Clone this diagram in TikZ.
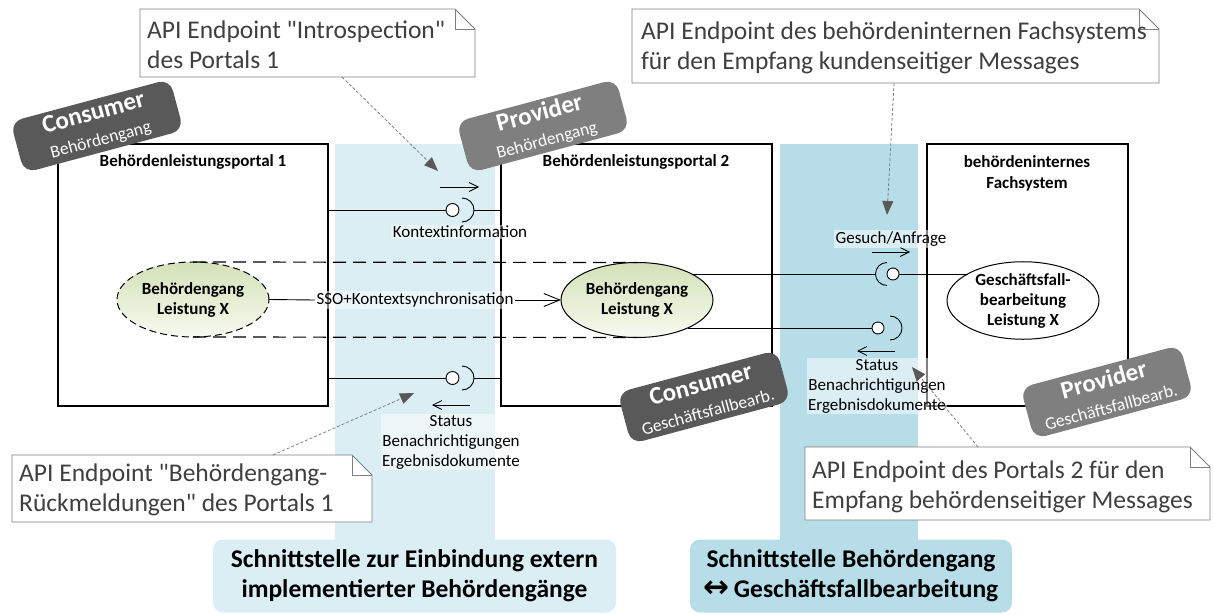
\documentclass[tikz,border=0pt]{standalone}
\usepackage{fontspec}
\setmainfont{Carlito}[Ligatures=TeXOff]
\newfontfamily\arrowfont{DejaVu Sans}
\usetikzlibrary{arrows.meta,shapes.geometric,calc}

\definecolor{bandlight}{HTML}{DAEEF3}
\definecolor{banddark}{HTML}{B7DEE8}
\definecolor{badgedark}{HTML}{595959}
\definecolor{badgemid}{HTML}{7F7F7F}
\definecolor{notegray}{HTML}{7F7F7F}
\definecolor{notefg}{HTML}{3F3F3F}
\definecolor{usecasetop}{HTML}{D3E1B7}
\definecolor{usecasebot}{HTML}{F7FAF0}

\newcommand{\fsz}[2]{\fontsize{#1}{#2}\selectfont}
% outline of a UML note with a folded top-right corner
\newcommand{\drawnote}[1]{%
  \filldraw[noteline, fill=white] (#1.north west) -- ([xshift=-20pt]#1.north east)
    -- ([yshift=-20pt]#1.north east) -- (#1.south east) -- (#1.south west) -- cycle;
  \draw[noteline] ([xshift=-20pt]#1.north east) -- ([xshift=-20pt,yshift=-20pt]#1.north east)
    -- ([yshift=-20pt]#1.north east);}

\begin{document}
\begin{tikzpicture}[x=1pt,y=-1pt,
  sysbox/.style={draw=black, line width=1.1pt, fill=white, anchor=north west, inner sep=0pt, outer sep=0pt},
  systitle/.style={font=\fsz{17}{21}\bfseries, align=center, inner sep=0pt},
  usecase/.style={ellipse, draw=black, line width=1pt, minimum width=152pt, minimum height=75pt,
    inner sep=0pt, outer sep=0pt, align=center, font=\fsz{17}{20}\bfseries},
  greenfill/.style={top color=usecasetop, bottom color=usecasebot},
  ball/.style={circle, draw=black, line width=0.9pt, fill=white, minimum size=13pt, inner sep=0pt, outer sep=0pt},
  iface/.style={line width=0.9pt},
  iflabel/.style={font=\fsz{17}{20}, align=center, fill=white, fill opacity=0.5, text opacity=1, inner sep=1.5pt},
  flow/.style={line width=0.8pt, -{Straight Barb[length=9pt,width=9pt]}},
  badge/.style={rounded corners=12pt, minimum width=165pt, minimum height=53pt, rotate=15,
    text=white, align=center, inner sep=0pt, font=\fsz{17.5}{26}},
  noteframe/.style={anchor=north west, inner sep=0pt, outer sep=0pt},
  noteline/.style={draw=notegray, line width=0.9pt},
  notetext/.style={font=\fsz{25.5}{30}, text=notefg, align=left, anchor=north west, inner sep=0pt},
  pointer/.style={draw=notegray, line width=0.8pt, dash pattern=on 3pt off 2pt,
    -{Triangle[length=14pt,width=11pt,color=badgedark]}},
  bandlabel/.style={rounded corners=10pt, minimum height=73pt, inner sep=0pt,
    font=\fsz{25.5}{30}\bfseries, align=center}
]
\useasboundingbox (0,0) rectangle (1214,615);

% interface bands with their captions
\fill[bandlight] (335,144) rectangle (495,541);
\fill[banddark] (780,144) rectangle (918,541);
\node[bandlabel, fill=bandlight, minimum width=403pt] (capA) at (414.5,576)
  {Schnittstelle zur Einbindung extern\\implementierter Behördengänge};
\node[bandlabel, fill=banddark, minimum width=322pt] (capB) at (851,576)
  {Schnittstelle Behördengang\\{\arrowfont\fsz{31}{30}\bfseries ↔}\,Geschäftsfallbearbeitung};

% systems
\node[sysbox, minimum width=270pt, minimum height=262pt] (p1) at (58,144) {};
\node[sysbox, minimum width=271pt, minimum height=262pt] (p2) at (501,144) {};
\node[sysbox, minimum width=201pt, minimum height=262pt] (fs) at (927,144) {};
\node[systitle] (p1t) at (193,162) {Behördenleistungsportal 1};
\node[systitle] (p2t) at (636,162) {Behördenleistungsportal 2};
\node[systitle] (fst) at (1027,173) {behördeninternes\\Fachsystem};

% use cases
\node[usecase, greenfill, dash pattern=on 7pt off 4pt] (uc1) at (193,299.5) {Behördengang\\Leistung X};
\node[usecase, greenfill] (uc2) at (637,300) {Behördengang\\Leistung X};
\node[usecase, fill=white] (uc3) at (1023,300.5) {Geschäftsfall-\\bearbeitung\\Leistung X};

% portal 1 <-> portal 2: context information
\node[ball] (ballA) at (452.5,210) {};
\coordinate (sockA) at (462,210);
\draw[iface] (p1.east |- ballA) -- (ballA.west);
\draw[iface] (sockA) ++(0,-12) arc[start angle=-90, end angle=90, radius=12];
\draw[iface] ($(sockA)+(12,0)$) -- (p2.west |- sockA);
\coordinate (fA1) at (440,187);
\coordinate (fA2) at (479,187);
\draw[flow] (fA1) -- (fA2);
\node[iflabel] (lblA) at (460,232) {Kontextinformation};

% portal 2 -> portal 1: feedback
\node[ball] (ballB) at (452.5,378) {};
\coordinate (sockB) at (462,378);
\draw[iface] (p1.east |- ballB) -- (ballB.west);
\draw[iface] (sockB) ++(0,-12) arc[start angle=-90, end angle=90, radius=12];
\draw[iface] ($(sockB)+(12,0)$) -- (p2.west |- sockB);
\coordinate (fB1) at (470,405);
\coordinate (fB2) at (432,405);
\draw[flow] (fB1) -- (fB2);
\node[iflabel] (lblB) at (451,442) {Status\\Benachrichtigungen\\Ergebnisdokumente};

% single sign-on
\node[iflabel] (sso) at (415,300) {SSO+Kontextsynchronisation};
\draw[iface] (uc1.east) -- (sso.west);
\draw[iface, -{Straight Barb[length=16pt,width=13pt]}] (sso.east) -- (uc2.west);
\draw[line width=1.2pt, dash pattern=on 13pt off 7pt] (uc1.north) -- (uc2.north);
\draw[line width=1.2pt, dash pattern=on 13pt off 7pt] (uc1.south) -- (uc2.south);

% portal 2 -> case handling: request
\node[ball, minimum size=12pt] (ballC) at (893,274) {};
\coordinate (sockC) at (887,274);
\coordinate (sockCl) at (875.5,274);
\draw[iface] (uc2.25.4) -- (uc2.25.4 -| sockCl);
\draw[iface] (sockC) ++(0,-11.5) arc[start angle=-90, end angle=-270, radius=11.5];
\draw[iface] (ballC.east) -- (ballC.east -| uc3.154.6);
\coordinate (fC1) at (872,252);
\coordinate (fC2) at (910,252);
\draw[flow] (fC1) -- (fC2);
\node[iflabel] (lblC) at (891,239) {Gesuch/Anfrage};

% case handling -> portal 2: feedback
\node[ball, minimum size=12pt] (ballD) at (878,328) {};
\coordinate (sockD) at (890,328);
\draw[iface] (uc2.-29) -- (uc2.-29 -| ballD.west);
\draw[iface] (sockD) ++(0,-12) arc[start angle=-90, end angle=90, radius=12];
\draw[iface] ($(sockD)+(12,0)$) -- ($(sockD)+(12,0)$ -| uc3.209);
\coordinate (fD1) at (895,351);
\coordinate (fD2) at (857,351);
\draw[flow] (fD1) -- (fD2);
\node[iflabel] (lblD) at (877,386) {Status\\Benachrichtigungen\\Ergebnisdokumente};

% role badges
\node[badge, fill=badgedark] (bConsA) at (97,126) {{\fsz{25}{26}\bfseries Consumer}\\Behördengang};
\node[badge, fill=badgemid] (bProvA) at (543,126) {{\fsz{25}{26}\bfseries Provider}\\Behördengang};
\node[badge, fill=badgedark] (bConsB) at (704,397) {{\fsz{25}{26}\bfseries Consumer}\\Geschäftsfallbearb.};
\node[badge, fill=badgemid] (bProvB) at (1107,392) {{\fsz{25}{26}\bfseries Provider}\\Geschäftsfallbearb.};

% notes
\node[noteframe, minimum width=335pt, minimum height=68pt] (n1) at (140,9) {};
\drawnote{n1}
\node[notetext] (n1t) at (147,21) {API Endpoint "Introspection"\\des Portals 1};
\node[noteframe, minimum width=527pt, minimum height=74pt] (n2) at (632,9) {};
\drawnote{n2}
\node[notetext] (n2t) at (641,22) {API Endpoint des behördeninternen Fachsystems\\für den Empfang kundenseitiger Messages};
\node[noteframe, minimum width=360pt, minimum height=67pt] (n3) at (12,455) {};
\drawnote{n3}
\node[notetext] (n3t) at (19,464) {API Endpoint "Behördengang-\\Rückmeldungen" des Portals 1};
\node[noteframe, minimum width=405pt, minimum height=73pt] (n4) at (805,447) {};
\drawnote{n4}
\node[notetext] (n4t) at (812,461) {API Endpoint des Portals 2 für den\\Empfang behördenseitiger Messages};

% note pointers
\coordinate (tipA) at (438,171);
\coordinate (tipB) at (887,215);
\coordinate (tipC) at (414,393);
\coordinate (tipD) at (912,367);
\draw[pointer] ($(n1.south west)+(202,0)$) -- (tipA);
\draw[pointer] ($(n2.south west)+(262,0)$) -- (tipB);
\draw[pointer] ($(n3.north west)+(261,0)$) -- (tipC);
\draw[pointer] ($(n4.north west)+(173,0)$) -- (tipD);
\end{tikzpicture}
\end{document}
